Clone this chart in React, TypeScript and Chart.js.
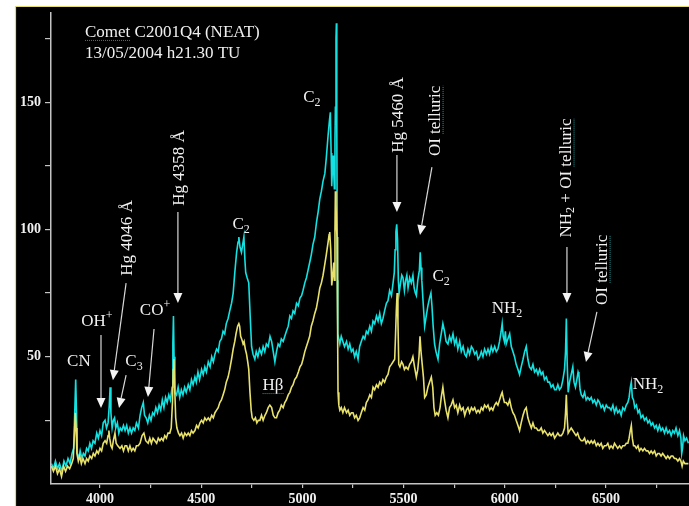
import React, { useEffect, useRef } from "react";
import { Chart, registerables } from "chart.js";

Chart.register(...registerables);

// Wavelength (Å) / relative flux pairs, upper (cyan) spectrum
const cyanSpectrum: [number, number][] = [
  [3760, 8], [3770, 6], [3780, 9], [3790, 6], [3800, 8], [3812, 5], [3822, 9], [3832, 7], [3842, 10], [3852, 8],
  [3862, 12], [3870, 14], [3876, 30], [3880, 41], [3884, 28], [3888, 12], [3895, 10], [3902, 13], [3910, 10], [3918, 12],
  [3926, 11], [3934, 14], [3942, 13], [3950, 16], [3958, 14], [3966, 17], [3975, 16], [3984, 20], [3992, 18], [4000, 21],
  [4008, 19], [4016, 24], [4025, 25], [4032, 22], [4040, 24], [4046, 31], [4050, 38], [4054, 28], [4060, 22], [4066, 25],
  [4072, 26], [4078, 22], [4086, 24], [4093, 20], [4100, 22], [4108, 21], [4116, 23], [4124, 21], [4132, 23], [4140, 20],
  [4148, 22], [4156, 20], [4164, 22], [4172, 21], [4180, 24], [4190, 22], [4198, 27], [4206, 30], [4214, 32], [4220, 27],
  [4228, 26], [4236, 24], [4244, 27], [4252, 25], [4260, 28], [4268, 27], [4276, 30], [4284, 28], [4292, 31], [4300, 29],
  [4308, 33], [4316, 30], [4324, 34], [4332, 32], [4340, 35], [4348, 33], [4356, 38], [4360, 55], [4363, 66], [4366, 50],
  [4370, 36], [4378, 35], [4386, 38], [4394, 34], [4402, 37], [4410, 35], [4418, 38], [4426, 36], [4436, 39], [4444, 37],
  [4452, 41], [4460, 39], [4469, 42], [4476, 40], [4484, 44], [4492, 41], [4502, 45], [4510, 43], [4518, 46], [4526, 44],
  [4535, 48], [4544, 46], [4552, 50], [4560, 48], [4568, 51], [4576, 53], [4584, 52], [4592, 56], [4600, 57], [4608, 60],
  [4616, 59], [4624, 63], [4633, 65], [4641, 68], [4650, 71], [4658, 75], [4666, 83], [4675, 91], [4682, 95], [4686, 97],
  [4692, 93], [4699, 91], [4705, 94], [4711, 97], [4716, 88], [4720, 83], [4727, 81], [4735, 79], [4742, 66], [4749, 54],
  [4756, 51], [4765, 49], [4772, 52], [4780, 50], [4788, 53], [4798, 51], [4806, 54], [4814, 52], [4822, 55], [4831, 54],
  [4840, 58], [4848, 56], [4856, 52], [4864, 48], [4872, 52], [4880, 55], [4888, 54], [4896, 57], [4905, 56], [4913, 58],
  [4921, 60], [4930, 62], [4938, 66], [4946, 65], [4954, 68], [4962, 67], [4971, 71], [4980, 70], [4988, 73], [4996, 74],
  [5003, 76], [5012, 79], [5020, 81], [5028, 84], [5036, 87], [5044, 90], [5052, 94], [5061, 97], [5070, 103], [5078, 107],
  [5086, 112], [5094, 115], [5102, 119], [5111, 122], [5118, 128], [5127, 137], [5134, 143], [5138, 146], [5142, 130], [5145, 117],
  [5149, 125], [5152, 129], [5156, 120], [5158, 116], [5161, 135], [5163, 148], [5166, 175], [5168, 181], [5170, 140], [5173, 80],
  [5175, 59], [5180, 57], [5185, 55], [5192, 58], [5200, 56], [5208, 54], [5218, 56], [5226, 53], [5234, 55], [5242, 52],
  [5250, 53], [5258, 50], [5266, 52], [5275, 49], [5283, 54], [5291, 56], [5300, 58], [5308, 57], [5316, 60], [5324, 59],
  [5333, 62], [5341, 60], [5349, 64], [5357, 63], [5366, 66], [5374, 64], [5382, 67], [5390, 63], [5398, 65], [5406, 68],
  [5415, 71], [5423, 72], [5431, 76], [5440, 74], [5448, 79], [5454, 83], [5458, 92], [5462, 99], [5466, 102], [5470, 96],
  [5474, 80], [5478, 75], [5485, 79], [5491, 82], [5497, 81], [5504, 76], [5510, 80], [5516, 82], [5522, 77], [5530, 81],
  [5538, 79], [5546, 82], [5552, 77], [5558, 75], [5563, 74], [5570, 80], [5578, 84], [5582, 91], [5586, 85], [5590, 80],
  [5596, 72], [5604, 62], [5612, 66], [5620, 70], [5628, 73], [5635, 75], [5640, 70], [5646, 62], [5653, 55], [5660, 52],
  [5670, 49], [5678, 55], [5686, 59], [5694, 63], [5702, 60], [5710, 56], [5719, 55], [5727, 58], [5735, 56], [5744, 59],
  [5752, 55], [5760, 57], [5768, 53], [5777, 56], [5785, 52], [5794, 54], [5802, 51], [5810, 50], [5818, 53], [5826, 51],
  [5835, 54], [5843, 53], [5851, 51], [5860, 52], [5868, 49], [5876, 50], [5884, 52], [5892, 50], [5900, 53], [5909, 51],
  [5917, 53], [5925, 51], [5933, 54], [5941, 52], [5950, 54], [5958, 52], [5966, 53], [5974, 56], [5982, 60], [5987, 63],
  [5992, 58], [5998, 56], [6003, 60], [6007, 55], [6015, 57], [6024, 59], [6032, 54], [6040, 52], [6048, 50], [6056, 47],
  [6065, 45], [6073, 43], [6081, 46], [6090, 49], [6098, 52], [6106, 54], [6114, 49], [6122, 46], [6131, 45], [6139, 47],
  [6147, 44], [6156, 45], [6164, 43], [6172, 45], [6180, 43], [6188, 44], [6196, 41], [6205, 42], [6213, 40], [6221, 40],
  [6229, 38], [6238, 39], [6246, 37], [6254, 37], [6262, 39], [6270, 37], [6279, 38], [6287, 41], [6295, 45], [6300, 52],
  [6304, 65], [6308, 48], [6313, 36], [6320, 40], [6328, 43], [6336, 46], [6342, 40], [6349, 38], [6356, 41], [6362, 44],
  [6366, 43], [6372, 37], [6378, 35], [6386, 34], [6394, 36], [6402, 33], [6410, 34], [6419, 33], [6427, 34], [6435, 32],
  [6443, 33], [6452, 31], [6460, 33], [6468, 32], [6476, 30], [6484, 31], [6492, 29], [6501, 31], [6509, 30], [6517, 30],
  [6525, 29], [6534, 31], [6542, 28], [6550, 30], [6558, 28], [6567, 29], [6575, 27], [6583, 30], [6592, 29], [6600, 31],
  [6608, 32], [6614, 34], [6620, 38], [6625, 40], [6630, 34], [6636, 33], [6642, 30], [6650, 31], [6658, 28], [6665, 29],
  [6673, 26], [6682, 27], [6690, 25], [6699, 26], [6707, 24], [6715, 25], [6723, 23], [6731, 24], [6740, 22], [6748, 23],
  [6756, 21], [6764, 23], [6772, 21], [6780, 22], [6789, 20], [6797, 22], [6805, 20], [6814, 21], [6822, 19], [6830, 21],
  [6838, 20], [6846, 22], [6855, 19], [6863, 21], [6870, 18], [6874, 12], [6878, 14], [6883, 19], [6890, 17], [6898, 18],
  [6907, 16],
];

// Wavelength (Å) / relative flux pairs, lower (yellow) spectrum
const yellowSpectrum: [number, number][] = [
  [3760, 7], [3770, 5], [3780, 7], [3790, 4], [3800, 6], [3810, 3], [3820, 7], [3830, 5], [3840, 7], [3850, 6],
  [3860, 8], [3868, 10], [3874, 20], [3878, 28], [3882, 22], [3886, 12], [3893, 9], [3900, 11], [3908, 8], [3916, 10],
  [3926, 8], [3934, 10], [3942, 9], [3950, 11], [3959, 10], [3967, 12], [3975, 11], [3984, 13], [3992, 12], [4000, 14],
  [4008, 13], [4016, 16], [4025, 17], [4033, 16], [4040, 19], [4044, 21], [4048, 18], [4054, 15], [4060, 14], [4066, 17],
  [4074, 20], [4080, 16], [4088, 15], [4099, 14], [4108, 15], [4116, 13], [4124, 15], [4132, 15], [4140, 13], [4148, 15],
  [4156, 13], [4164, 14], [4172, 13], [4180, 15], [4189, 15], [4198, 16], [4208, 19], [4217, 20], [4226, 17], [4238, 16],
  [4246, 18], [4254, 16], [4262, 18], [4271, 17], [4280, 16], [4288, 18], [4296, 17], [4304, 18], [4312, 17], [4320, 19],
  [4328, 18], [4336, 20], [4345, 20], [4352, 22], [4358, 32], [4362, 45], [4365, 49], [4369, 38], [4374, 26], [4380, 22],
  [4388, 20], [4395, 19], [4403, 20], [4411, 18], [4419, 20], [4428, 19], [4436, 20], [4444, 19], [4452, 21], [4460, 20],
  [4469, 21], [4477, 23], [4485, 22], [4494, 24], [4502, 25], [4510, 24], [4518, 26], [4526, 25], [4535, 26], [4543, 25],
  [4552, 27], [4560, 26], [4568, 28], [4576, 29], [4584, 30], [4592, 32], [4600, 33], [4608, 35], [4616, 37], [4624, 40],
  [4633, 42], [4641, 45], [4650, 49], [4658, 53], [4666, 56], [4672, 59], [4680, 62], [4686, 63], [4690, 62], [4695, 58],
  [4700, 57], [4707, 55], [4712, 56], [4718, 53], [4724, 51], [4730, 48], [4735, 45], [4741, 36], [4747, 29], [4752, 26],
  [4760, 25], [4768, 26], [4775, 24], [4782, 25], [4790, 25], [4798, 27], [4806, 25], [4815, 27], [4822, 28], [4831, 30],
  [4839, 31], [4848, 30], [4856, 27], [4864, 26], [4872, 26], [4880, 28], [4888, 29], [4896, 31], [4905, 30], [4913, 32],
  [4921, 33], [4930, 35], [4938, 36], [4946, 38], [4954, 39], [4962, 41], [4971, 42], [4980, 44], [4988, 46], [4996, 47],
  [5003, 49], [5012, 52], [5020, 54], [5028, 56], [5036, 58], [5044, 62], [5052, 64], [5061, 67], [5069, 69], [5078, 73],
  [5086, 77], [5094, 79], [5102, 82], [5110, 86], [5118, 90], [5127, 95], [5132, 98], [5135, 99], [5140, 92], [5145, 78],
  [5150, 82], [5155, 87], [5158, 80], [5161, 100], [5163, 115], [5166, 110], [5169, 100], [5171, 97], [5174, 60], [5176, 36],
  [5180, 31], [5185, 29], [5192, 30], [5200, 28], [5208, 30], [5218, 28], [5226, 29], [5234, 27], [5242, 28], [5250, 28],
  [5258, 26], [5266, 27], [5275, 25], [5283, 26], [5291, 28], [5300, 30], [5308, 29], [5316, 32], [5324, 33], [5333, 35],
  [5341, 34], [5349, 38], [5357, 37], [5366, 39], [5374, 38], [5382, 40], [5390, 39], [5398, 41], [5406, 40], [5415, 42],
  [5423, 43], [5431, 46], [5440, 47], [5448, 48], [5456, 49], [5460, 58], [5464, 68], [5468, 75], [5472, 64], [5476, 47],
  [5482, 46], [5490, 48], [5497, 47], [5504, 45], [5512, 46], [5522, 45], [5530, 47], [5538, 48], [5546, 50], [5554, 46],
  [5563, 42], [5570, 45], [5576, 50], [5581, 58], [5586, 52], [5592, 47], [5598, 42], [5604, 34], [5612, 35], [5620, 38],
  [5628, 40], [5637, 42], [5644, 38], [5650, 30], [5656, 27], [5664, 28], [5672, 27], [5680, 30], [5686, 34], [5694, 38],
  [5702, 33], [5710, 29], [5719, 26], [5727, 30], [5735, 31], [5744, 33], [5752, 30], [5760, 31], [5768, 28], [5777, 31],
  [5785, 29], [5794, 30], [5802, 27], [5810, 29], [5818, 30], [5826, 28], [5835, 30], [5843, 29], [5851, 30], [5860, 28],
  [5868, 29], [5876, 28], [5884, 30], [5892, 29], [5900, 31], [5909, 30], [5917, 31], [5925, 29], [5933, 30], [5941, 29],
  [5950, 31], [5958, 32], [5966, 31], [5974, 33], [5982, 35], [5987, 36], [5992, 34], [5998, 32], [6007, 32], [6015, 31],
  [6024, 33], [6032, 30], [6040, 28], [6048, 27], [6056, 25], [6065, 23], [6073, 21], [6081, 24], [6090, 27], [6098, 29],
  [6106, 30], [6114, 26], [6122, 24], [6131, 22], [6139, 24], [6147, 22], [6156, 22], [6164, 21], [6172, 21], [6180, 22],
  [6188, 20], [6196, 21], [6205, 20], [6213, 19], [6221, 20], [6229, 19], [6238, 20], [6246, 18], [6254, 19], [6262, 20],
  [6270, 19], [6279, 19], [6287, 20], [6295, 22], [6300, 28], [6304, 35], [6308, 26], [6313, 20], [6320, 21], [6328, 22],
  [6336, 21], [6344, 20], [6352, 19], [6360, 20], [6368, 18], [6378, 17], [6386, 17], [6394, 18], [6402, 16], [6410, 17],
  [6419, 16], [6427, 17], [6435, 16], [6443, 17], [6452, 15], [6460, 16], [6468, 15], [6476, 16], [6484, 14], [6492, 15],
  [6501, 15], [6509, 16], [6517, 14], [6525, 15], [6534, 14], [6542, 16], [6550, 15], [6558, 14], [6567, 15], [6575, 14],
  [6583, 15], [6592, 15], [6600, 16], [6608, 16], [6614, 18], [6620, 21], [6625, 23], [6630, 18], [6636, 15], [6642, 15],
  [6650, 14], [6658, 15], [6665, 13], [6673, 14], [6682, 13], [6690, 14], [6699, 13], [6707, 13], [6715, 12], [6723, 13],
  [6731, 12], [6740, 13], [6748, 11], [6756, 12], [6764, 12], [6772, 11], [6780, 12], [6789, 11], [6797, 10], [6805, 11],
  [6814, 10], [6822, 11], [6830, 11], [6838, 10], [6846, 10], [6855, 9], [6863, 10], [6870, 9], [6876, 7], [6882, 9],
  [6890, 8], [6898, 8], [6907, 8],
];

// Axis ticks (major ones carry a label)
const xTickValues = [4000, 4250, 4500, 4750, 5000, 5250, 5500, 5750, 6000, 6250, 6500, 6750];
const xLabelValues = [4000, 4500, 5000, 5500, 6000, 6500];
const yTickValues = [25, 50, 75, 100, 125, 150, 175];
const yLabelValues = [50, 100, 150];

const X_MIN = 3758;
const X_MAX = 6910;
const Y_MIN = 0;
const Y_MAX = 185;

const titleLines = ["Comet C2001Q4 (NEAT)", "13/05/2004 h21.30 TU"];

type Seg = [string, "n" | "sub" | "sup" | "u"];

// Horizontal line identifications: text parts, centre wavelength, baseline flux
const lineLabels: { parts: Seg[]; x: number; y: number }[] = [
  { parts: [["CN", "n"]], x: 3896, y: 46.3 },
  { parts: [["OH", "n"], ["+", "sup"]], x: 3985, y: 62.1 },
  { parts: [["C", "n"], ["3", "sub"]], x: 4168, y: 46.3 },
  { parts: [["CO", "n"], ["+", "sup"]], x: 4272, y: 66.4 },
  { parts: [["C", "n"], ["2", "sub"]], x: 4697, y: 100.2 },
  { parts: [["Hβ", "u"]], x: 4855, y: 36.9 },
  { parts: [["C", "n"], ["2", "sub"]], x: 5047, y: 150 },
  { parts: [["C", "n"], ["2", "sub"]], x: 5685, y: 79.7 },
  { parts: [["NH", "n"], ["2", "sub"]], x: 6011, y: 67.2 },
  { parts: [["NH", "n"], ["2", "sub"]], x: 6707, y: 37.3 },
];

// Vertical (rotated) identifications: text parts, centre wavelength, centre flux
const rotatedLabels: { parts: Seg[]; x: number; y: number }[] = [
  { parts: [["Hg 4046 Å", "n"]], x: 4128, y: 96.6 },
  { parts: [["Hg 4358 Å", "n"]], x: 4385, y: 124.1 },
  { parts: [["Hg 5460 Å", "n"]], x: 5467, y: 144.9 },
  { parts: [["OI ", "n"], ["telluric", "u"]], x: 5650, y: 142.6 },
  { parts: [["NH", "n"], ["2", "sub"], [" + OI ", "n"], ["telluric", "u"]], x: 6297, y: 120.2 },
  { parts: [["OI ", "n"], ["telluric", "u"]], x: 6475, y: 84.1 },
];

// Pointer arrows: [fromWavelength, fromFlux, toWavelength, toFlux]
const arrows: [number, number, number, number][] = [
  [4005, 58.5, 4005, 29.9],
  [4129, 78.9, 4064, 40.8],
  [4129, 42.8, 4094, 29.9],
  [4267, 60.9, 4237, 34.2],
  [4385, 106.8, 4385, 71.1],
  [5467, 129.2, 5467, 106.8],
  [5640, 124.5, 5581, 97.8],
  [6307, 93.1, 6307, 71.1],
  [6455, 67.6, 6401, 47.9],
];

const SERIF = '"Liberation Serif", "Times New Roman", serif';
const LABEL_SIZE = 17;
const TITLE_SIZE = 17;
const INK = "#f0f0f0";
const AXIS = "#c4c4c4";
const SQUIGGLE = "#1f9a9a";

function segFont(kind: Seg[1], size: number) {
  const s = kind === "sub" || kind === "sup" ? Math.round(size * 0.68) : size;
  return `${s}px ${SERIF}`;
}

function richWidth(ctx: CanvasRenderingContext2D, parts: Seg[], size: number) {
  let w = 0;
  for (const [t, k] of parts) {
    ctx.font = segFont(k, size);
    w += ctx.measureText(t).width;
  }
  return w;
}

// Draws mixed normal/sub/superscript text centred on x, sitting on baseline y
function drawRich(ctx: CanvasRenderingContext2D, parts: Seg[], x: number, y: number, size: number) {
  const total = richWidth(ctx, parts, size);
  let cx = x - total / 2;
  ctx.textAlign = "left";
  ctx.textBaseline = "alphabetic";
  for (const [t, k] of parts) {
    ctx.font = segFont(k, size);
    const w = ctx.measureText(t).width;
    let dy = 0;
    if (k === "sub") dy = size * 0.22;
    if (k === "sup") dy = -size * 0.38;
    ctx.fillStyle = INK;
    ctx.fillText(t, cx, y + dy);
    if (k === "u") {
      ctx.save();
      ctx.strokeStyle = SQUIGGLE;
      ctx.lineWidth = 1;
      ctx.setLineDash([1, 1]);
      ctx.beginPath();
      ctx.moveTo(cx, y + 3.5);
      ctx.lineTo(cx + w, y + 3.5);
      ctx.stroke();
      ctx.restore();
    }
    cx += w;
  }
}

const backdrop = {
  id: "backdrop",
  beforeDraw(chart: Chart) {
    const { ctx, width, height } = chart;
    ctx.save();
    ctx.fillStyle = "#ffffff";
    ctx.fillRect(0, 0, width, height);
    ctx.fillStyle = "#000000";
    ctx.fillRect(16, 7, width - 16, height - 7);
    ctx.strokeStyle = "#e6dc6e";
    ctx.lineWidth = 1.2;
    ctx.beginPath();
    ctx.moveTo(15.5, height);
    ctx.lineTo(15.5, 6.5);
    ctx.lineTo(width, 6.5);
    ctx.stroke();
    ctx.restore();
  },
};

const annotations = {
  id: "annotations",
  afterDraw(chart: Chart) {
    const { ctx } = chart;
    const xs = chart.scales.x;
    const ys = chart.scales.y;
    const px = (v: number) => xs.getPixelForValue(v);
    const py = (v: number) => ys.getPixelForValue(v);
    ctx.save();

    // title block
    ctx.font = `${TITLE_SIZE}px ${SERIF}`;
    ctx.fillStyle = INK;
    ctx.textAlign = "left";
    ctx.textBaseline = "alphabetic";
    ctx.fillText(titleLines[0], px(3926), py(175.6));
    ctx.fillText(titleLines[1], px(3926), py(167.3));
    // spell-check squiggle under "Comet"
    const cometW = ctx.measureText("Comet").width;
    ctx.strokeStyle = "#3a6fc0";
    ctx.lineWidth = 1;
    ctx.setLineDash([1, 1]);
    ctx.beginPath();
    ctx.moveTo(px(3926), py(175.6) + 3.5);
    ctx.lineTo(px(3926) + cometW, py(175.6) + 3.5);
    ctx.stroke();
    ctx.setLineDash([]);

    for (const l of lineLabels) drawRich(ctx, l.parts, px(l.x), py(l.y), LABEL_SIZE);

    for (const l of rotatedLabels) {
      ctx.save();
      ctx.translate(px(l.x), py(l.y));
      ctx.rotate(-Math.PI / 2);
      drawRich(ctx, l.parts, 0, LABEL_SIZE * 0.33, LABEL_SIZE);
      ctx.restore();
    }

    // arrows
    for (const [x0, y0, x1, y1] of arrows) {
      const ax = px(x0), ay = py(y0), bx = px(x1), by = py(y1);
      const ang = Math.atan2(by - ay, bx - ax);
      const headL = 10, headW = 4.5;
      const hx = bx - Math.cos(ang) * headL;
      const hy = by - Math.sin(ang) * headL;
      ctx.strokeStyle = "#d8d8d8";
      ctx.lineWidth = 1.2;
      ctx.beginPath();
      ctx.moveTo(ax, ay);
      ctx.lineTo(hx, hy);
      ctx.stroke();
      ctx.fillStyle = "#f4f4f4";
      ctx.beginPath();
      ctx.moveTo(bx, by);
      ctx.lineTo(hx + Math.sin(ang) * headW, hy - Math.cos(ang) * headW);
      ctx.lineTo(hx - Math.sin(ang) * headW, hy + Math.cos(ang) * headW);
      ctx.closePath();
      ctx.fill();
    }
    ctx.restore();
  },
};

export default function App() {
  const canvasRef = useRef<HTMLCanvasElement | null>(null);

  useEffect(() => {
    const canvas = canvasRef.current;
    if (!canvas) return;
    const tickFont = { family: SERIF, size: 14, weight: "bold" as const };
    const chart = new Chart(canvas, {
      type: "line",
      data: {
        datasets: [
          {
            label: "upper",
            data: cyanSpectrum.map(([x, y]) => ({ x, y })),
            borderColor: "#12e2e2",
            borderWidth: 1.6,
            pointRadius: 0,
            tension: 0,
            order: 1,
          },
          {
            label: "lower",
            data: yellowSpectrum.map(([x, y]) => ({ x, y })),
            borderColor: "#e8e26c",
            borderWidth: 1.6,
            pointRadius: 0,
            tension: 0,
            order: 0,
          },
        ],
      },
      options: {
        animation: false,
        responsive: false,
        devicePixelRatio: 1,
        layout: { padding: { left: 0, right: 0, top: 13, bottom: 0 } },
        plugins: { legend: { display: false }, tooltip: { enabled: false } },
        scales: {
          x: {
            type: "linear",
            min: X_MIN,
            max: X_MAX,
            afterBuildTicks: (s: any) => {
              s.ticks = xTickValues.map((value) => ({ value }));
            },
            afterFit: (s: any) => {
              s.height = 22;
            },
            ticks: {
              autoSkip: false,
              maxRotation: 0,
              padding: 3,
              color: INK,
              font: tickFont,
              callback: (v: any) => (xLabelValues.includes(Number(v)) ? String(v) : ""),
            },
            grid: { drawOnChartArea: false, tickLength: 4, color: AXIS, lineWidth: 1.2 },
            border: { color: AXIS, width: 1.5 },
          },
          y: {
            type: "linear",
            min: Y_MIN,
            max: Y_MAX,
            afterBuildTicks: (s: any) => {
              s.ticks = yTickValues.map((value) => ({ value }));
            },
            afterFit: (s: any) => {
              s.width = 51;
            },
            ticks: {
              autoSkip: false,
              padding: 4,
              color: INK,
              font: tickFont,
              callback: (v: any) => (yLabelValues.includes(Number(v)) ? String(v) : ""),
            },
            grid: { drawOnChartArea: false, tickLength: 6, color: AXIS, lineWidth: 1.2 },
            border: { color: AXIS, width: 1.5 },
          },
        },
      },
      plugins: [backdrop, annotations],
    });
    return () => chart.destroy();
  }, []);

  return (
    <div style={{ position: "absolute", left: 0, top: 0, width: 689, height: 506 }}>
      <canvas ref={canvasRef} width={689} height={506} style={{ display: "block" }} />
    </div>
  );
}
